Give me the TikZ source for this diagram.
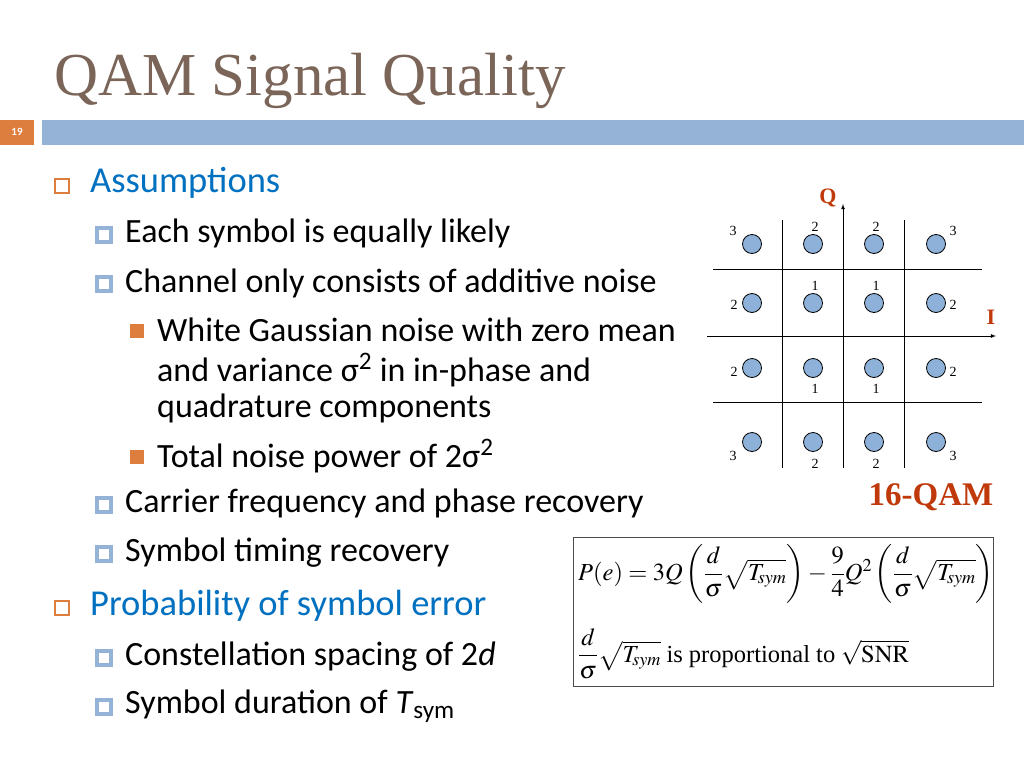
\documentclass[tikz,border=0pt]{standalone}
\usepackage{amsmath}
\usepackage{mathptmx}
\usepackage{fontspec}
\setmainfont{Carlito}
\newfontfamily\tnr{Liberation Serif}
\newfontfamily\ttl{Liberation Serif}
\definecolor{ttlc}{HTML}{7A6558}
\definecolor{barb}{HTML}{95B3D7}
\definecolor{oran}{HTML}{DD7E3F}
\definecolor{blu}{HTML}{0070C0}
\definecolor{dotc}{HTML}{8DB1D8}
\definecolor{redq}{HTML}{C0390B}
\begin{document}
\begin{tikzpicture}[x=1pt,y=-1pt,
  lone/.style={anchor=west,font=\fontsize{36.5}{36}\selectfont,text=blu,inner sep=0},
  ltwo/.style={anchor=west,font=\fontsize{34}{34}\selectfont,inner sep=0},
  bone/.style={draw=oran,line width=1.3pt,minimum size=14pt,inner sep=0},
  btwo/.style={draw=barb,fill=white,line width=3.5pt,minimum size=14pt,inner sep=0},
  bthr/.style={fill=oran,minimum size=14pt,inner sep=0},
  pt/.style={circle,draw=black,fill=dotc,minimum size=19pt,inner sep=0,line width=0.8pt},
  num/.style={font=\tnr\fontsize{14}{14}\selectfont,inner sep=0},
  ax/.style={line width=0.8pt}]
\useasboundingbox (0,0) rectangle (1024,768);
\fill[white] (0,0) rectangle (1024,768);
\node[anchor=base west,inner sep=0,text=ttlc,font=\ttl\fontsize{61}{61}\selectfont] (title) at (54,95) {QAM Signal Quality};
\fill[oran] (0,120) rectangle (34,145);
\node[text=white,font=\bfseries\fontsize{11}{11}\selectfont] (pg) at (17,132) {19};
\fill[barb] (42,120) rectangle (1024,145);
% bullets
\node[bone] (b1) at (62,186) {};
\node[lone] (t1) at (90,183) {Assumptions};
\node[btwo] (b2) at (104,235) {};
\node[ltwo] (t2) at (125,233) {Each symbol is equally likely};
\node[btwo] (b3) at (104,284) {};
\node[ltwo] (t3) at (125,283) {Channel only consists of additive noise};
\node[bthr] (b4) at (137,331) {};
\node[ltwo] (t4) at (157,330) {White Gaussian noise with zero mean};
\node[ltwo] (t5) at (157,370) {and variance σ\textsuperscript{2} in in-phase and};
\node[ltwo] (t6) at (157,408) {quadrature components};
\node[bthr] (b7) at (137,457) {};
\node[ltwo] (t7) at (157,456) {Total noise power of 2σ\textsuperscript{2}};
\node[btwo] (b8) at (104,505) {};
\node[ltwo] (t8) at (125,503) {Carrier frequency and phase recovery};
\node[btwo] (b9) at (104,554) {};
\node[ltwo] (t9) at (125,553) {Symbol timing recovery};
\node[bone] (b10) at (62,608) {};
\node[lone] (t10) at (90,606) {Probability of symbol error};
\node[btwo] (b11) at (104,658) {};
\node[ltwo] (t11) at (125,657) {Constellation spacing of 2\textit{d}};
\node[btwo] (b12) at (104,707) {};
\node[ltwo] (t12) at (125,706) {Symbol duration of \textit{T}\textsubscript{sym}};
% constellation
\foreach \x in {782,904} \draw[ax] (\x,220) -- (\x,468);
\foreach \y in {269,402} \draw[ax] (713,\y) -- (982,\y);
\coordinate (qa) at (843,468); \coordinate (qb) at (843,204);
\coordinate (ia) at (707,336); \coordinate (ib) at (996,336);
\draw[ax,-latex] (qa) -- (qb);
\draw[ax,-latex] (ia) -- (ib);
\foreach \x [count=\i] in {752,813,874,936}
  \foreach \y [count=\j] in {244,303,368,442}
    \node[pt] (p\i\j) at (\x,\y) {};
\foreach \x/\y/\t in {733/231/3,815/227/2,876/227/2,953/231/3,
  815/286/1,876/286/1,734/305/2,953/305/2,
  734/372/2,953/372/2,815/389/1,876/389/1,
  733/456/3,815/464/2,876/464/2,953/456/3}
  \node[num] at (\x,\y) {\t};
\node[text=redq,font=\tnr\bfseries\fontsize{22}{22}\selectfont,inner sep=0] (qlab) at (828,198) {Q};
\node[text=redq,font=\tnr\bfseries\fontsize{22}{22}\selectfont,inner sep=0] (ilab) at (991,317) {I};
\node[text=redq,font=\tnr\bfseries\fontsize{33}{33}\selectfont,inner sep=0] (qam) at (931,497) {16-QAM};
% formula box
\draw[line width=0.8pt,draw=black!70] (573,537) rectangle (993,686);
\node[anchor=west,inner sep=0,font=\fontsize{24.5}{24}\selectfont] (f1) at (578,574)
  {$P(e)=3Q\left(\dfrac{d}{\sigma}\sqrt{T_{\!sym}}\right)-\dfrac{9}{4}Q^2\left(\dfrac{d}{\sigma}\sqrt{T_{\!sym}}\right)$};
\node[anchor=west,inner sep=0,font=\fontsize{24.5}{24}\selectfont] (f2) at (578,654)
  {$\dfrac{d}{\sigma}\sqrt{T_{\!sym}}$ {\tnr is proportional to} $\sqrt{\mathrm{SNR}}$};
\end{tikzpicture}
\end{document}
